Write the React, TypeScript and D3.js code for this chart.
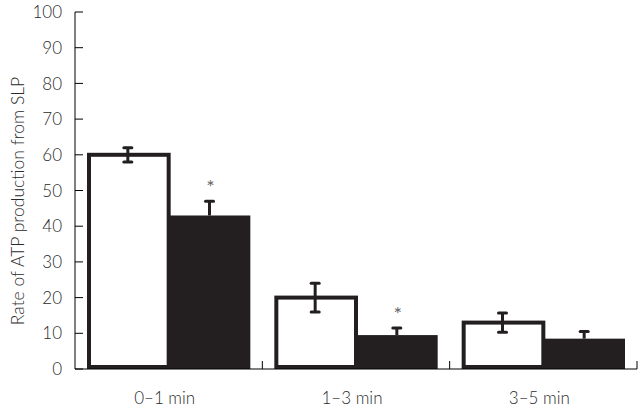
import React from "react";
import * as d3 from "d3";

const categories = ["0\u20131 min", "1\u20133 min", "3\u20135 min"];
const controlValues = [60, 20, 13];
const controlErrors = [2, 4, 2.7];
const treatedValues = [43, 9.5, 8.5];
const treatedErrors = [4, 2, 2];
const significant = [true, true, false];
const yTicks = [0, 10, 20, 30, 40, 50, 60, 70, 80, 90, 100];
const yLabel = "Rate of ATP production from SLP";

const W = 639;
const H = 407;
const m = { left: 75, right: 2, top: 12, bottom: 38 };

export default function App() {
  const x = d3
    .scaleBand<string>()
    .domain(categories)
    .range([m.left, W - m.right])
    .paddingInner(0)
    .paddingOuter(0);
  const y = d3.scaleLinear().domain([0, 100]).range([H - m.bottom, m.top]);
  const pad = 12;
  const barW = (x.bandwidth() - 2 * pad) / 2;
  const font = "Lato, 'Open Sans', sans-serif";
  const textFill = "#2a2a2a";
  const y0 = y(0);

  return (
    <svg
      width={W}
      height={H}
      style={{ position: "absolute", left: 0, top: 0, background: "#fff" }}
      fontFamily={font}
    >
      {categories.map((c, i) => {
        const bx = (x(c) as number) + pad;
        const wTop = y(controlValues[i]);
        const bTop = y(treatedValues[i]);
        const cx1 = bx + barW / 2;
        const cx2 = bx + barW * 1.5;
        return (
          <g key={c}>
            <rect
              x={bx + barW}
              y={bTop}
              width={barW}
              height={y0 - bTop}
              fill="#231f20"
            />
            <rect
              x={bx + 2}
              y={wTop}
              width={barW - 2}
              height={y0 - wTop - 2}
              fill="#fff"
              stroke="#231f20"
              strokeWidth={4}
            />
            <line
              x1={cx1}
              x2={cx1}
              y1={y(controlValues[i] + controlErrors[i])}
              y2={y(controlValues[i] - controlErrors[i])}
              stroke="#231f20"
              strokeWidth={3}
            />
            {[1, -1].map((s) => (
              <line
                key={s}
                x1={cx1 - 4}
                x2={cx1 + 4}
                y1={y(controlValues[i] + s * controlErrors[i])}
                y2={y(controlValues[i] + s * controlErrors[i])}
                stroke="#231f20"
                strokeWidth={3}
                strokeLinecap="round"
              />
            ))}
            <line
              x1={cx2}
              x2={cx2}
              y1={y(treatedValues[i] + treatedErrors[i])}
              y2={bTop}
              stroke="#231f20"
              strokeWidth={3}
            />
            <line
              x1={cx2 - 4}
              x2={cx2 + 4}
              y1={y(treatedValues[i] + treatedErrors[i])}
              y2={y(treatedValues[i] + treatedErrors[i])}
              stroke="#231f20"
              strokeWidth={3}
              strokeLinecap="round"
            />
            {significant[i] && (
              <text
                x={cx2 + 1}
                y={y(treatedValues[i] + treatedErrors[i]) - 22}
                dy="0.75em"
                textAnchor="middle"
                fontSize={20}
                fontWeight={400}
                fill="#666"
              >
                *
              </text>
            )}
            <text
              x={(x(c) as number) + x.bandwidth() / 2 - 4}
              y={H - 3}
              textAnchor="middle"
              fontSize={17}
              fontWeight={300}
              fill={textFill}
            >
              {c}
            </text>
          </g>
        );
      })}

      <line x1={m.left} x2={m.left} y1={y(100)} y2={y0} stroke="#000" strokeWidth={1} />
      {yTicks.map((t) => (
        <g key={t}>
          <line x1={m.left} x2={m.left + 8} y1={y(t)} y2={y(t)} stroke="#000" strokeWidth={1} />
          <text
            x={m.left - 13}
            y={y(t)}
            dy="0.36em"
            textAnchor="end"
            fontSize={17}
            fontWeight={300}
            fill={textFill}
          >
            {t}
          </text>
        </g>
      ))}

      <line x1={m.left} x2={W - m.right} y1={y0} y2={y0} stroke="#000" strokeWidth={1} />
      {categories.map((c) => {
        const tx = (x(c) as number) + x.bandwidth();
        return <line key={c} x1={tx} x2={tx} y1={y0} y2={y0 - 8} stroke="#000" strokeWidth={1} />;
      })}

      <text
        transform={`translate(24,201) rotate(-90)`}
        textAnchor="middle"
        fontSize={17.5}
        fontWeight={300}
        fill={textFill}
      >
        {yLabel}
      </text>
    </svg>
  );
}
